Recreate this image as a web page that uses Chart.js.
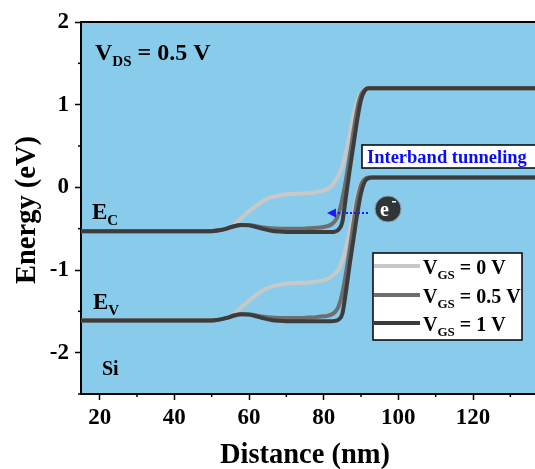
<!DOCTYPE html>
<html>
<head>
<meta charset="utf-8">
<script src="https://cdn.jsdelivr.net/npm/chart.js@4.4.0/dist/chart.umd.min.js"></script>
<style>
  html, body { margin: 0; padding: 0; background: #fff; }
</style>
</head>
<body>
<canvas id="c" width="535" height="469"></canvas>
<script>
// distance along the channel (nm)
const distance = [15, 30, 45, 50, 52, 54, 56, 58, 60, 62, 64, 66, 68, 70, 72, 74, 76, 78, 80, 81,
  82, 83, 84, 85, 86, 87, 88, 89, 90, 91, 92, 93, 95, 100, 110, 120, 130, 137];

// conduction band edge (eV)
const ecVgs0 = [-0.53, -0.53, -0.53, -0.53, -0.52, -0.50, -0.45, -0.37, -0.29, -0.22, -0.16, -0.12, -0.10, -0.085, -0.08, -0.075, -0.07, -0.06, -0.04, -0.02,
  0.01, 0.07, 0.15, 0.26, 0.43, 0.65, 0.88, 1.05, 1.15, 1.19, 1.2, 1.2, 1.2, 1.2, 1.2, 1.2, 1.2, 1.2];
const ecVgs05 = [-0.53, -0.53, -0.53, -0.53, -0.52, -0.50, -0.47, -0.455, -0.455, -0.47, -0.485, -0.495, -0.50, -0.50, -0.50, -0.50, -0.495, -0.49, -0.48, -0.47,
  -0.45, -0.41, -0.32, -0.14, 0.10, 0.38, 0.68, 0.95, 1.12, 1.18, 1.2, 1.2, 1.2, 1.2, 1.2, 1.2, 1.2, 1.2];
const ecVgs1 = [-0.53, -0.53, -0.53, -0.53, -0.52, -0.50, -0.47, -0.455, -0.46, -0.48, -0.505, -0.525, -0.535, -0.54, -0.54, -0.54, -0.54, -0.54, -0.54, -0.54,
  -0.54, -0.535, -0.51, -0.42, -0.10, 0.22, 0.52, 0.82, 1.06, 1.17, 1.2, 1.2, 1.2, 1.2, 1.2, 1.2, 1.2, 1.2];

// valence band edge (eV)
const evVgs0 = [-1.61, -1.61, -1.61, -1.61, -1.60, -1.58, -1.53, -1.45, -1.37, -1.30, -1.24, -1.20, -1.18, -1.165, -1.16, -1.155, -1.15, -1.14, -1.125, -1.11,
  -1.08, -1.04, -0.99, -0.88, -0.72, -0.52, -0.30, -0.08, 0.05, 0.10, 0.12, 0.12, 0.12, 0.12, 0.12, 0.12, 0.12, 0.12];
const evVgs05 = [-1.61, -1.61, -1.61, -1.61, -1.60, -1.58, -1.55, -1.535, -1.535, -1.55, -1.565, -1.575, -1.58, -1.58, -1.58, -1.58, -1.575, -1.57, -1.56, -1.555,
  -1.54, -1.51, -1.44, -1.28, -1.03, -0.74, -0.43, -0.15, 0.03, 0.10, 0.12, 0.12, 0.12, 0.12, 0.12, 0.12, 0.12, 0.12];
const evVgs1 = [-1.61, -1.61, -1.61, -1.61, -1.60, -1.58, -1.55, -1.535, -1.54, -1.56, -1.585, -1.605, -1.615, -1.62, -1.62, -1.62, -1.62, -1.62, -1.62, -1.62,
  -1.62, -1.615, -1.60, -1.53, -1.25, -0.92, -0.62, -0.32, -0.07, 0.07, 0.11, 0.12, 0.12, 0.12, 0.12, 0.12, 0.12, 0.12];

const xTicks = [20, 40, 60, 80, 100, 120];
const xMinorTicks = [10, 30, 50, 70, 90, 110, 130];
const yTicks = [-2, -1, 0, 1, 2];
const yMinorTicks = [-2.5, -1.5, -0.5, 0.5, 1.5];
const legendLabels = ["0 V", "0.5 V", "1 V"];

const colors = ["#c8c8c8", "#6e6e6e", "#3c3c3c"];
const FONT = '"Liberation Serif", "Times New Roman", serif';

const pts = (ys) => distance.map((x, i) => ({ x: x, y: ys[i] }));

function band(data, idx) {
  return {
    data: pts(data),
    borderColor: colors[idx],
    borderWidth: 4,
    pointRadius: 0,
    cubicInterpolationMode: "monotone",
    order: 3 - idx,
  };
}

// draw text with subscripts: pieces = [text, size, dy]
function drawSub(ctx, x, y, pieces) {
  let cx = x;
  for (const [t, size, dy] of pieces) {
    ctx.font = "bold " + size + "px " + FONT;
    ctx.fillText(t, cx, y + dy);
    cx += ctx.measureText(t).width;
  }
}

const decorPlugin = {
  id: "decor",
  beforeDraw(chart) {
    const { ctx, chartArea: a } = chart;
    ctx.save();
    ctx.fillStyle = "#fff";
    ctx.fillRect(0, 0, chart.width, chart.height);
    ctx.fillStyle = "#88cbeb";
    ctx.fillRect(a.left, a.top, a.right - a.left, a.bottom - a.top);
    ctx.restore();
  },
  afterDatasetsDraw(chart) {
    const { ctx } = chart;
    ctx.save();
    ctx.textBaseline = "alphabetic";
    ctx.fillStyle = "#000";
    drawSub(ctx, 95, 60, [["V", 24, 0], ["DS", 15, 6], [" = 0.5 V", 24, 0]]);
    drawSub(ctx, 92, 219, [["E", 23, 0], ["C", 15, 6]]);
    drawSub(ctx, 93, 309, [["E", 23, 0], ["V", 15, 6]]);
    drawSub(ctx, 102, 375, [["Si", 20, 0]]);

    // interband tunneling box
    ctx.fillStyle = "#fff";
    ctx.fillRect(362, 145, 180, 23);
    ctx.strokeStyle = "#000";
    ctx.lineWidth = 1.5;
    ctx.strokeRect(362, 145, 180, 23);
    ctx.fillStyle = "#0a0aff";
    drawSub(ctx, 367, 163, [["Interband tunneling", 18.5, 0]]);

    // tunneling arrow
    ctx.strokeStyle = "#1a1aff";
    ctx.lineWidth = 2;
    ctx.setLineDash([2, 2]);
    ctx.beginPath();
    ctx.moveTo(368, 213);
    ctx.lineTo(334, 213);
    ctx.stroke();
    ctx.setLineDash([]);
    ctx.fillStyle = "#1a1aff";
    ctx.beginPath();
    ctx.moveTo(327, 213);
    ctx.lineTo(336, 208.5);
    ctx.lineTo(336, 217.5);
    ctx.closePath();
    ctx.fill();

    // electron
    ctx.fillStyle = "#30353a";
    ctx.strokeStyle = "#8c9aa4";
    ctx.lineWidth = 1;
    ctx.beginPath();
    ctx.arc(388, 209, 13, 0, Math.PI * 2);
    ctx.fill();
    ctx.stroke();
    ctx.fillStyle = "#fff";
    drawSub(ctx, 380, 216, [["e", 20, 0]]);
    ctx.fillRect(392, 201, 4, 1.5);

    // legend
    ctx.fillStyle = "#fff";
    ctx.fillRect(373, 253, 149, 87);
    ctx.strokeStyle = "#000";
    ctx.lineWidth = 1.5;
    ctx.strokeRect(373, 253, 149, 87);
    const ly = [266, 295, 323];
    legendLabels.forEach((lab, i) => {
      ctx.strokeStyle = colors[i];
      ctx.lineWidth = 4;
      ctx.beginPath();
      ctx.moveTo(374, ly[i]);
      ctx.lineTo(420, ly[i]);
      ctx.stroke();
      ctx.fillStyle = "#000";
      drawSub(ctx, 423, ly[i] + 8, [["V", 20, 0], ["GS", 13, 5], [" = " + lab, 20, 0]]);
    });
    ctx.restore();
  },
  afterDraw(chart) {
    const { ctx, chartArea: a } = chart;
    const xs = chart.scales.x, ys = chart.scales.y;
    ctx.save();
    ctx.strokeStyle = "#000";
    ctx.lineWidth = 2;
    ctx.beginPath();
    ctx.moveTo(a.left - 1, a.top);
    ctx.lineTo(a.right, a.top);
    ctx.stroke();
    ctx.lineWidth = 1.5;
    xMinorTicks.forEach((v) => {
      if (v < xs.min || v > xs.max) return;
      const px = xs.getPixelForValue(v);
      ctx.beginPath();
      ctx.moveTo(px, a.bottom);
      ctx.lineTo(px, a.bottom + 3);
      ctx.stroke();
    });
    yMinorTicks.forEach((v) => {
      const py = ys.getPixelForValue(v);
      ctx.beginPath();
      ctx.moveTo(a.left, py);
      ctx.lineTo(a.left - 3, py);
      ctx.stroke();
    });
    // axis titles
    ctx.fillStyle = "#000";
    ctx.font = "bold 28.5px " + FONT;
    ctx.textAlign = "center";
    ctx.fillText("Distance (nm)", 305, 463);
    ctx.translate(35, 210);
    ctx.rotate(-Math.PI / 2);
    ctx.fillText("Energy (eV)", 0, 0);
    ctx.restore();
  },
};

new Chart(document.getElementById("c"), {
  type: "line",
  data: {
    datasets: [
      band(ecVgs0, 0), band(ecVgs05, 1), band(ecVgs1, 2),
      band(evVgs0, 0), band(evVgs05, 1), band(evVgs1, 2),
    ],
  },
  options: {
    responsive: false,
    animation: false,
    devicePixelRatio: 1,
    layout: { padding: { left: 0, right: 0, top: 22, bottom: 0 } },
    plugins: { legend: { display: false }, tooltip: { enabled: false } },
    scales: {
      x: {
        type: "linear",
        min: 15,
        max: 136.6,
        afterBuildTicks: (s) => { s.ticks = xTicks.map((v) => ({ value: v })); },
        afterFit: (s) => { s.height = 75; },
        ticks: { color: "#000", font: { family: FONT, size: 23, weight: "bold" }, padding: 4, maxRotation: 0 },
        grid: { drawOnChartArea: false, tickLength: 6, tickWidth: 1.5, tickColor: "#000" },
        border: { display: true, color: "#000", width: 2 },
      },
      y: {
        type: "linear",
        min: -2.5,
        max: 2,
        afterBuildTicks: (s) => { s.ticks = yTicks.map((v) => ({ value: v })); },
        afterFit: (s) => { s.width = 81; },
        ticks: { color: "#000", font: { family: FONT, size: 23, weight: "bold" }, padding: 6 },
        grid: { drawOnChartArea: false, tickLength: 6, tickWidth: 1.5, tickColor: "#000" },
        border: { display: true, color: "#000", width: 2 },
      },
    },
  },
  plugins: [decorPlugin],
});
</script>
</body>
</html>
